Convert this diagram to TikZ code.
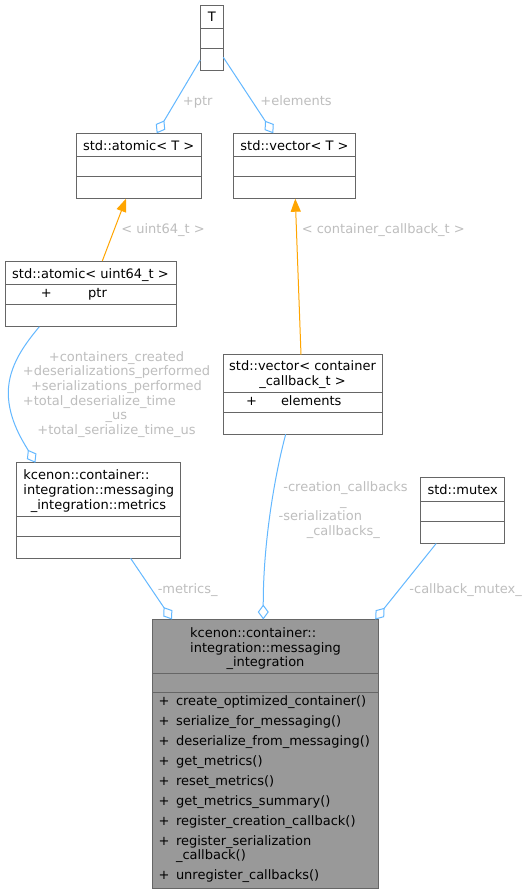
\documentclass[tikz,border=0pt]{standalone}
\usepackage{fontspec}
\setmainfont{DejaVu Sans}
\usetikzlibrary{arrows.meta}
\definecolor{edgeblue}{HTML}{63B8FF}
\definecolor{edgeorange}{HTML}{FFA500}
\definecolor{lblgray}{HTML}{BEBEBE}
\definecolor{bordergray}{HTML}{666666}
\definecolor{mainfill}{HTML}{999999}
\newcommand\myfont{\fontsize{13}{15}\selectfont}
\newcommand\clsdiv[2]{\draw[divl] ([yshift=-#2pt]#1.north west) -- ([yshift=-#2pt]#1.north east);}
\tikzset{
  cls/.style={draw=bordergray, line width=1pt, fill=white, inner sep=0pt, outer sep=0pt, anchor=north west},
  mainc/.style={cls, fill=mainfill},
  divl/.style={draw=bordergray, line width=1pt},
  txt/.style={inner sep=0pt, outer sep=0pt, font=\myfont, text=black},
  lbl/.style={txt, text=lblgray},
  agg/.style={draw=edgeblue, line width=1pt, -{Diamond[length=15pt, width=11pt, fill=white]}},
  inst/.style={draw=edgeorange, line width=1pt, -{Triangle[length=13pt, width=10pt]}},
}
\begin{document}
\begin{tikzpicture}[x=1pt,y=-1pt]
\useasboundingbox[fill=white] (0,0) rectangle (529,895);
% class boxes
\node[cls, minimum width=23pt, minimum height=65.7pt] (T) at (200.3,5) {};
\node[cls, minimum width=125.3pt, minimum height=65.4pt] (aT) at (76,133.3) {};
\node[cls, minimum width=121.6pt, minimum height=65.4pt] (vT) at (233.7,133.3) {};
\node[cls, minimum width=171pt, minimum height=65.7pt] (a64) at (5,261) {};
\node[cls, minimum width=159pt, minimum height=79.6pt] (vC) at (223,354.7) {};
\node[cls, minimum width=164pt, minimum height=95.5pt] (met) at (16.5,462.8) {};
\node[cls, minimum width=84pt, minimum height=65.8pt] (mtx) at (420.7,477.7) {};
\node[mainc, minimum width=225.3pt, minimum height=269.2pt] (main) at (152.7,619.5) {};
% dividers
\clsdiv{T}{23.7}\clsdiv{T}{43.7}
\clsdiv{aT}{23.4}\clsdiv{aT}{43.4}
\clsdiv{vT}{23.4}\clsdiv{vT}{43.4}
\clsdiv{a64}{23.3}\clsdiv{a64}{43.3}
\clsdiv{vC}{37.6}\clsdiv{vC}{57.6}
\clsdiv{met}{53.7}\clsdiv{met}{73.9}
\clsdiv{mtx}{23.9}\clsdiv{mtx}{43.8}
\clsdiv{main}{53.5}\clsdiv{main}{72.8}
% class texts
\node[txt, anchor=base] (tT) at (211.8,21.5) {T};
\node[txt, anchor=base] (taT) at (138.7,150) {std::atomic< T >};
\node[txt, anchor=base] (tvT) at (294.5,150) {std::vector< T >};
\node[txt, anchor=base] (ta64) at (90.5,278) {std::atomic< uint64\_t >};
\node[txt, anchor=base west] (ta64p) at (40.8,297.7) {+};
\node[txt, anchor=base west] (ta64n) at (88.2,297.7) {ptr};
\node[txt, anchor=base] (tvC1) at (302.5,370.7) {std::vector< container};
\node[txt, anchor=base] (tvC2) at (302.5,385.2) {\_callback\_t >};
\node[txt, anchor=base west] (tvCp) at (246.2,405) {+};
\node[txt, anchor=base west] (tvCn) at (281,405) {elements};
\node[txt, anchor=base] (tmet2) at (98.8,494.5) {integration::messaging};
\node[txt, anchor=base west, yshift=14.7pt] (tmet1) at (tmet2.base west) {kcenon::container::};
\node[txt, anchor=base] (tmet3) at (98.5,509) {\_integration::metrics};
\node[txt, anchor=base] (tmtx) at (462.7,494.5) {std::mutex};
\node[txt, anchor=base] (tmain2) at (265.5,652.3) {integration::messaging};
\node[txt, anchor=base west, yshift=14.6pt] (tmain1) at (tmain2.base west) {kcenon::container::};
\node[txt, anchor=base] (tmain3) at (265.5,666.8) {\_integration};
% members of main
\node[txt, anchor=base west] (p1) at (158.5,705) {+};
\node[txt, anchor=base west] (m1) at (176,705) {create\_optimized\_container()};
\node[txt, anchor=base west] (p2) at (158.5,725) {+};
\node[txt, anchor=base west] (m2) at (176,725) {serialize\_for\_messaging()};
\node[txt, anchor=base west] (p3) at (158.5,745) {+};
\node[txt, anchor=base west] (m3) at (176,745) {deserialize\_from\_messaging()};
\node[txt, anchor=base west] (p4) at (158.5,765) {+};
\node[txt, anchor=base west] (m4) at (176,765) {get\_metrics()};
\node[txt, anchor=base west] (p5) at (158.5,785) {+};
\node[txt, anchor=base west] (m5) at (176,785) {reset\_metrics()};
\node[txt, anchor=base west] (p6) at (158.5,805) {+};
\node[txt, anchor=base west] (m6) at (176,805) {get\_metrics\_summary()};
\node[txt, anchor=base west] (p7) at (158.5,825) {+};
\node[txt, anchor=base west] (m7) at (176,825) {register\_creation\_callback()};
\node[txt, anchor=base west] (p8) at (158.5,845.5) {+};
\node[txt, anchor=base west] (m8a) at (176,845.5) {register\_serialization};
\node[txt, anchor=base west] (m8b) at (176,859) {\_callback()};
\node[txt, anchor=base west] (p9) at (158.5,879.5) {+};
\node[txt, anchor=base west] (m9) at (176,879.5) {unregister\_callbacks()};
% connectors
\draw[agg] ([yshift=10.7pt]T.south west) -- ([xshift=80.7pt]aT.north west);
\draw[agg] ([yshift=13.4pt]T.south east) -- ([xshift=39.6pt]vT.north west);
\draw[inst] ([xshift=97.3pt]a64.north west) -- ([xshift=50pt]aT.south west);
\draw[inst] ([xshift=78pt]vC.north west) -- ([xshift=61.6pt]vT.south west);
\draw[agg] ([xshift=34.3pt]a64.south west) .. controls (26,343) and (8.3,365) .. (8.3,393) .. controls (8.3,420) and (24,443) .. ([xshift=18.9pt]met.north west);
\draw[agg] ([xshift=62.7pt]vC.south west) .. controls (276,470) and (263,540) .. ([xshift=110.6pt]main.north west);
\draw[agg] ([xshift=114.1pt]met.south west) -- ([xshift=19.3pt]main.north west);
\draw[agg] ([xshift=15.5pt]mtx.south west) -- ([xshift=-2.8pt]main.north east);
% connector labels
\node[lbl, anchor=base] (lptr) at (197.7,105) {+ptr};
\node[lbl, anchor=base] (lel) at (296,105) {+elements};
\node[lbl, anchor=base] (lu64) at (163,233.3) {< uint64\_t >};
\node[lbl, anchor=base] (lcc) at (383.3,233.3) {< container\_callback\_t >};
\node[lbl, anchor=base] (ml1) at (116.5,361) {+containers\_created};
\node[lbl, anchor=base] (ml2) at (116.5,375.7) {+deserializations\_performed};
\node[lbl, anchor=base] (ml3) at (116.5,390.4) {+serializations\_performed};
\node[lbl, anchor=base west, yshift=-29.4pt] (ml4) at (ml2.base west) {+total\_deserialize\_time};
\node[lbl, anchor=base] (ml5) at (116.5,419.8) {\_us};
\node[lbl, anchor=base] (ml6) at (116.5,434.5) {+total\_serialize\_time\_us};
\node[lbl, anchor=base] (cl1) at (345.5,491) {-creation\_callbacks};
\node[lbl, anchor=base] (cl2) at (343.3,505.7) {\_};
\node[lbl, anchor=base west] (cl3) at (278.7,520.5) {-serialization};
\node[lbl, anchor=base] (cl4) at (343.3,535) {\_callbacks\_};
\node[lbl, anchor=base] (lmet) at (187.7,593.4) {-metrics\_};
\node[lbl, anchor=base] (lmtx) at (465.6,593.4) {-callback\_mutex\_};
\end{tikzpicture}
\end{document}
